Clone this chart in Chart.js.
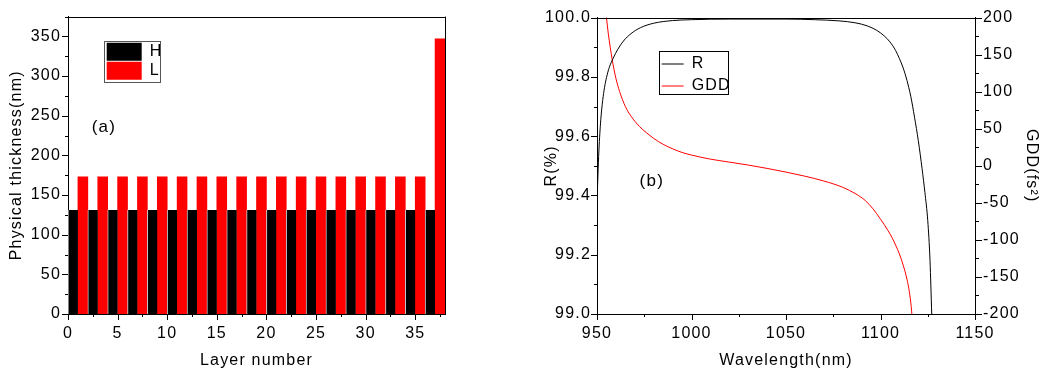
<!DOCTYPE html>
<html>
<head>
<meta charset="utf-8">
<title>Mirror layer design and spectral response</title>
<script src="https://cdn.jsdelivr.net/npm/chart.js@4.4.1/dist/chart.umd.min.js"></script>
<style>
  html, body { margin: 0; padding: 0; background: #fff; }
  #figure { position: relative; width: 1044px; height: 377px; overflow: hidden; background: #fff; }
  #figure canvas { position: absolute; top: 0; }
  #thicknessCanvas { left: 0; }
  #spectrumCanvas { left: 520px; }
</style>
</head>
<body>
<div id="figure">
  <canvas id="thicknessCanvas" width="520" height="377"></canvas>
  <canvas id="spectrumCanvas" width="524" height="377"></canvas>
</div>
<script>
// ---------- (a) layer stack: physical thickness of each layer ----------
const layerNumbers = [
  1, 2, 3, 4, 5, 6, 7, 8, 9, 10,
  11, 12, 13, 14, 15, 16, 17, 18, 19, 20,
  21, 22, 23, 24, 25, 26, 27, 28, 29, 30,
  31, 32, 33, 34, 35, 36, 37, 38
];
const layerMaterials = [
  'H', 'L', 'H', 'L', 'H', 'L', 'H', 'L', 'H', 'L',
  'H', 'L', 'H', 'L', 'H', 'L', 'H', 'L', 'H', 'L',
  'H', 'L', 'H', 'L', 'H', 'L', 'H', 'L', 'H', 'L',
  'H', 'L', 'H', 'L', 'H', 'L', 'H', 'L'
];
const layerThickness = [
  131, 173, 131, 173, 131, 173, 131, 173, 131, 173,
  131, 173, 131, 173, 131, 173, 131, 173, 131, 173,
  131, 173, 131, 173, 131, 173, 131, 173, 131, 173,
  131, 173, 131, 173, 131, 173, 131, 347
];

// ---------- (b) reflectance and group delay dispersion ----------
const rWavelength = [
  950, 951, 952, 953, 954, 955, 956.5, 958.5, 961, 964,
  968, 973, 980, 990, 1000, 1020, 1050, 1065, 1078, 1087,
  1093, 1098, 1102, 1105, 1108, 1110, 1112, 1114, 1116, 1118,
  1120, 1122, 1123.5, 1125, 1126.2, 1127.1, 1127.6
];
const rPercent = [
  99.38, 99.55, 99.655, 99.72, 99.765, 99.797, 99.832, 99.862, 99.893, 99.921,
  99.946, 99.966, 99.981, 99.990, 99.993, 99.995, 99.995, 99.993, 99.989, 99.982,
  99.972, 99.957, 99.938, 99.918, 99.889, 99.862, 99.830, 99.788, 99.735, 99.664,
  99.585, 99.490, 99.410, 99.315, 99.180, 99.000, 98.900
];
const gddWavelength = [
  954, 955, 956, 957, 958, 959, 960, 962, 965, 968,
  972.5, 976, 980, 985, 990, 995, 1000, 1010, 1020, 1030,
  1040, 1050, 1060, 1070, 1080, 1087, 1092, 1096, 1100, 1102,
  1104, 1106, 1108, 1110, 1112, 1114, 1115, 1116, 1116.5, 1117
];
const gddFs2 = [
  222, 200, 178, 160, 144, 130, 118, 100, 80, 67,
  53, 45, 37, 29, 23, 18, 14.5, 9, 5, 1,
  -3.5, -8.5, -14, -20.5, -29, -38, -47, -58, -72, -79.5,
  -87.5, -96.5, -107, -119, -134, -153, -166, -184, -197, -213
];

// ---------- shared look ----------
const FONT = '"Liberation Sans", Arial, Helvetica, sans-serif';
Chart.defaults.font.family = FONT;
Chart.defaults.font.size = 16;
Chart.defaults.color = '#000';
Chart.defaults.animation = false;

// letter spacing on every text the charts draw
const textSpacingPlugin = {
  id: 'textSpacing',
  beforeUpdate(chart, args, opts) { chart.ctx.letterSpacing = opts.spacing || '0px'; },
  beforeDraw(chart, args, opts) { chart.ctx.letterSpacing = opts.spacing || '0px'; }
};

// outward major/minor tick marks on each axis
const tickMarksPlugin = {
  id: 'tickMarks',
  afterDraw(chart, args, opts) {
    const { ctx, chartArea: area } = chart;
    ctx.save();
    ctx.strokeStyle = '#000';
    ctx.lineWidth = 1;
    ctx.beginPath();
    (opts.axes || []).forEach(cfg => {
      const scale = chart.scales[cfg.id];
      const count = Math.round((scale.max - scale.min) / cfg.minor);
      for (let i = 0; i <= count; i++) {
        const value = scale.min + i * cfg.minor;
        const len = i % 2 === 0 ? opts.majorLength : opts.minorLength;
        const p = Math.round(scale.getPixelForValue(value)) + 0.5;
        if (scale.position === 'bottom') {
          ctx.moveTo(p, area.bottom);
          ctx.lineTo(p, area.bottom + len);
        } else if (scale.position === 'left') {
          ctx.moveTo(area.left - len, p);
          ctx.lineTo(area.left, p);
        } else if (scale.position === 'right') {
          ctx.moveTo(area.right + 1, p);
          ctx.lineTo(area.right + 1 + len, p);
        }
      }
    });
    ctx.stroke();
    ctx.restore();
  }
};

// closes the plot box on the sides without an axis
const plotFramePlugin = {
  id: 'plotFrame',
  afterDraw(chart, args, opts) {
    const { ctx, chartArea: a } = chart;
    ctx.save();
    ctx.strokeStyle = '#000';
    ctx.lineWidth = 1;
    ctx.beginPath();
    const top = Math.round(a.top) + 0.5;
    const right = Math.round(a.right) + 0.5;
    if (opts.top) { ctx.moveTo(a.left, top); ctx.lineTo(a.right + 1, top); }
    if (opts.right) { ctx.moveTo(right, a.top); ctx.lineTo(right, a.bottom + 1); }
    ctx.stroke();
    ctx.restore();
  }
};

// panel letter placed in data coordinates
const panelTagPlugin = {
  id: 'panelTag',
  afterDatasetsDraw(chart, args, opts) {
    const { ctx, scales } = chart;
    ctx.save();
    ctx.font = opts.size + 'px ' + FONT;
    ctx.fillStyle = '#000';
    ctx.textAlign = 'center';
    ctx.textBaseline = 'middle';
    ctx.fillText(opts.text,
      scales[opts.xAxis].getPixelForValue(opts.x),
      scales[opts.yAxis].getPixelForValue(opts.y));
    ctx.restore();
  }
};

// moves the legend inside the plot and draws a box round it
const legendPlacePlugin = {
  id: 'legendPlace',
  afterLayout(chart, args, opts) {
    const lg = chart.legend;
    lg.left = opts.left;
    lg.top = opts.top;
    lg.right = lg.left + lg.width;
    lg.bottom = lg.top + lg.height;
  },
  afterDraw(chart, args, opts) {
    const { ctx } = chart;
    const lg = chart.legend;
    const [dx, dy, w, h] = opts.frame;
    ctx.save();
    ctx.strokeStyle = opts.frameColor;
    ctx.lineWidth = 1;
    ctx.strokeRect(Math.round(lg.left + dx) + 0.5, Math.round(lg.top + dy) + 0.5, Math.round(w), Math.round(h));
    ctx.restore();
  }
};

const commonPlugins = [textSpacingPlugin, tickMarksPlugin, plotFramePlugin, panelTagPlugin, legendPlacePlugin];

function axisBase(extra) {
  return Object.assign({
    grid: { display: false, drawTicks: false, offset: false },
    border: { display: true, color: '#000', width: 1 }
  }, extra);
}

const tickFont = { size: 16 };
const titleFont = { size: 16 };
const plainLabel = v => String(v);
const noBorderLabels = chart =>
  Chart.defaults.plugins.legend.labels.generateLabels(chart).map(item => Object.assign(item, { lineWidth: 0 }));

// ---------- (a) bars ----------
function stackPoints(material) {
  // each layer occupies the interval [n-1, n] on the layer axis
  return layerNumbers
    .map((n, i) => ({ x: n - 0.5, y: layerThickness[i], m: layerMaterials[i] }))
    .filter(p => p.m === material)
    .map(p => ({ x: p.x, y: p.y }));
}

new Chart(document.getElementById('thicknessCanvas'), {
  type: 'bar',
  data: {
    datasets: [
      { label: 'H', data: stackPoints('H'), backgroundColor: '#000000', borderColor: '#c4c4c4', borderWidth: { left: 1 } },
      { label: 'L', data: stackPoints('L'), backgroundColor: '#ff0000', borderWidth: 0 }
    ]
  },
  options: {
    responsive: false,
    animation: false,
    events: [],
    layout: { padding: { top: 11, right: 75, bottom: 0, left: 0 } },
    datasets: { bar: { grouped: false, barPercentage: 1, categoryPercentage: 1 } },
    scales: {
      x: axisBase({
        type: 'linear', offset: false, min: 0, max: 38,
        ticks: { stepSize: 5, includeBounds: false, padding: 9.5, font: tickFont, maxRotation: 0, autoSkip: false, callback: plainLabel },
        title: { display: true, text: 'Layer number', font: titleFont, padding: { top: 0, bottom: 7 } },
        afterFit: s => { s.height = 63; }
      }),
      y: axisBase({
        type: 'linear', min: 0, max: 375,
        ticks: { stepSize: 50, includeBounds: false, padding: 7, font: tickFont, callback: plainLabel },
        title: { display: true, text: 'Physical thickness(nm)', font: titleFont, padding: { top: 7, bottom: 0 } },
        afterFit: s => { s.width = 68; }
      })
    },
    plugins: {
      tooltip: { enabled: false },
      legend: {
        position: 'chartArea', align: 'start',
        labels: { boxWidth: 35, boxHeight: 18, padding: 1, font: { size: 16 }, color: '#000', generateLabels: noBorderLabels }
      },
      legendPlace: { left: 105.7, top: 41.7, frame: [-1.4, -1, 55.7, 41.3], frameColor: '#555' },
      textSpacing: { spacing: '1.2px' },
      tickMarks: { majorLength: 6, minorLength: 3, axes: [{ id: 'x', minor: 2.5 }, { id: 'y', minor: 25 }] },
      plotFrame: { top: true, right: true },
      panelTag: { text: '(a)', size: 17, xAxis: 'x', yAxis: 'y', x: 3.62, y: 235 }
    }
  },
  plugins: commonPlugins
});

// ---------- (b) lines ----------
const rPoints = rWavelength.map((w, i) => ({ x: w, y: rPercent[i] }));
const gddPoints = gddWavelength.map((w, i) => ({ x: w, y: gddFs2[i] }));

new Chart(document.getElementById('spectrumCanvas'), {
  type: 'line',
  data: {
    datasets: [
      { label: 'R', data: rPoints, yAxisID: 'y', borderColor: '#000000', borderWidth: 1, pointRadius: 0, cubicInterpolationMode: 'monotone', fill: false },
      { label: 'GDD', data: gddPoints, yAxisID: 'y2', borderColor: '#ff0000', borderWidth: 1, pointRadius: 0, cubicInterpolationMode: 'monotone', fill: false }
    ]
  },
  options: {
    responsive: false,
    animation: false,
    events: [],
    layout: { padding: { top: 10, right: 0, bottom: 0, left: 0 } },
    scales: {
      x: axisBase({
        type: 'linear', position: 'bottom', min: 950, max: 1150,
        ticks: { stepSize: 50, padding: 9.5, font: tickFont, maxRotation: 0, autoSkip: false, callback: plainLabel },
        title: { display: true, text: 'Wavelength(nm)', font: titleFont, padding: { top: 0, bottom: 7 } },
        afterFit: s => { s.height = 63; }
      }),
      y: axisBase({
        type: 'linear', position: 'left', min: 99, max: 100,
        ticks: { stepSize: 0.2, padding: 6, font: tickFont, callback: v => Number(v).toFixed(1) },
        title: { display: true, text: 'R(%)', font: titleFont, padding: { top: 22, bottom: 0 } },
        afterFit: s => { s.width = 77; }
      }),
      y2: axisBase({
        type: 'linear', position: 'right', min: -200, max: 200,
        ticks: { stepSize: 50, padding: 8, font: tickFont, callback: plainLabel },
        title: { display: true, text: 'GDD(fs²)', font: titleFont, padding: { top: 3, bottom: 0 } },
        afterFit: s => { s.width = 69; }
      })
    },
    plugins: {
      tooltip: { enabled: false },
      legend: {
        position: 'chartArea', align: 'start',
        labels: { usePointStyle: true, pointStyle: 'line', pointStyleWidth: 22, padding: 6, font: { size: 16 }, color: '#000' }
      },
      legendPlace: { left: 135.7, top: 50, frame: [3.6, 1, 69, 43.3], frameColor: '#000' },
      textSpacing: { spacing: '1.2px' },
      tickMarks: { majorLength: 6, minorLength: 3, axes: [{ id: 'x', minor: 25 }, { id: 'y', minor: 0.1 }, { id: 'y2', minor: 25 }] },
      plotFrame: { top: true, right: false },
      panelTag: { text: '(b)', size: 17, xAxis: 'x', yAxis: 'y', x: 979, y: 99.448 }
    }
  },
  plugins: commonPlugins
});
</script>
</body>
</html>
